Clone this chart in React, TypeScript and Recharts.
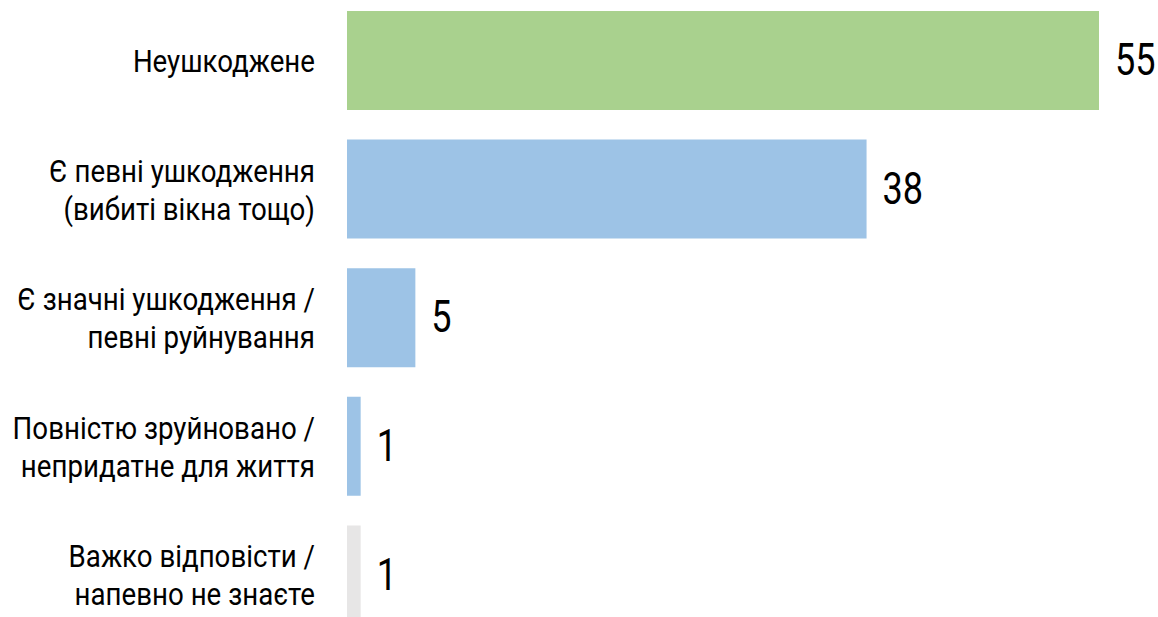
import { BarChart, Bar, XAxis, YAxis, Cell, LabelList } from 'recharts';

const categories = [
  'Неушкоджене',
  'Є певні ушкодження\n(вибиті вікна тощо)',
  'Є значні ушкодження /\nпевні руйнування',
  'Повністю зруйновано /\nнепридатне для життя',
  'Важко відповісти /\nнапевно не знаєте',
];
const values = [55, 38, 5, 1, 1];
const colors = ['#a9d18e', '#9dc3e6', '#9dc3e6', '#9dc3e6', '#e7e6e6'];

const data = categories.map((name, i) => ({ name, value: values[i] }));

const FONT = 'Roboto, sans-serif';
// Roboto is wider than the condensed face of the original, so squeeze it a bit
const SQUEEZE = 0.865;

function CategoryTick(props: any) {
  const { y, payload } = props;
  const ax = 315;
  const lines: string[] = String(payload.value).split('\n');
  const lineH = 38;
  const startDy = -((lines.length - 1) * lineH) / 2;
  return (
    <text
      x={ax}
      y={y}
      textAnchor="end"
      dominantBaseline="central"
      fontFamily={FONT}
      fontSize={32}
      fill="#000"
      transform={`translate(${ax},0) scale(${SQUEEZE},1) translate(${-ax},0)`}
    >
      {lines.map((l, i) => (
        <tspan key={i} x={ax} dy={i === 0 ? startDy : lineH}>
          {l}
        </tspan>
      ))}
    </text>
  );
}

function ValueLabel(props: any) {
  const { x, y, width, height, value } = props;
  const lx = x + width + 16;
  return (
    <text
      x={lx}
      y={y + height / 2}
      dominantBaseline="central"
      fontFamily={FONT}
      fontSize={44}
      fill="#000"
      transform={`translate(${lx},0) scale(0.82,1) translate(${-lx},0)`}
    >
      {value}
    </text>
  );
}

export default function App() {
  return (
    <div
      style={{
        position: 'fixed',
        top: 0,
        left: 0,
        width: 1158,
        height: 617,
        overflow: 'hidden',
        background: '#fff',
      }}
    >
      <div style={{ position: 'absolute', top: -4, left: 0 }}>
        <BarChart
          layout="vertical"
          width={1158}
          height={643}
          data={data}
          margin={{ top: 0, right: 59, bottom: 0, left: 0 }}
          barCategoryGap={15}
        >
          <XAxis type="number" domain={[0, 55]} hide />
          <YAxis
            type="category"
            dataKey="name"
            width={347}
            axisLine={false}
            tickLine={false}
            tick={<CategoryTick />}
            interval={0}
          />
          <Bar dataKey="value" isAnimationActive={false}>
            {data.map((d, i) => (
              <Cell key={d.name} fill={colors[i]} />
            ))}
            <LabelList dataKey="value" content={<ValueLabel />} />
          </Bar>
        </BarChart>
      </div>
    </div>
  );
}
